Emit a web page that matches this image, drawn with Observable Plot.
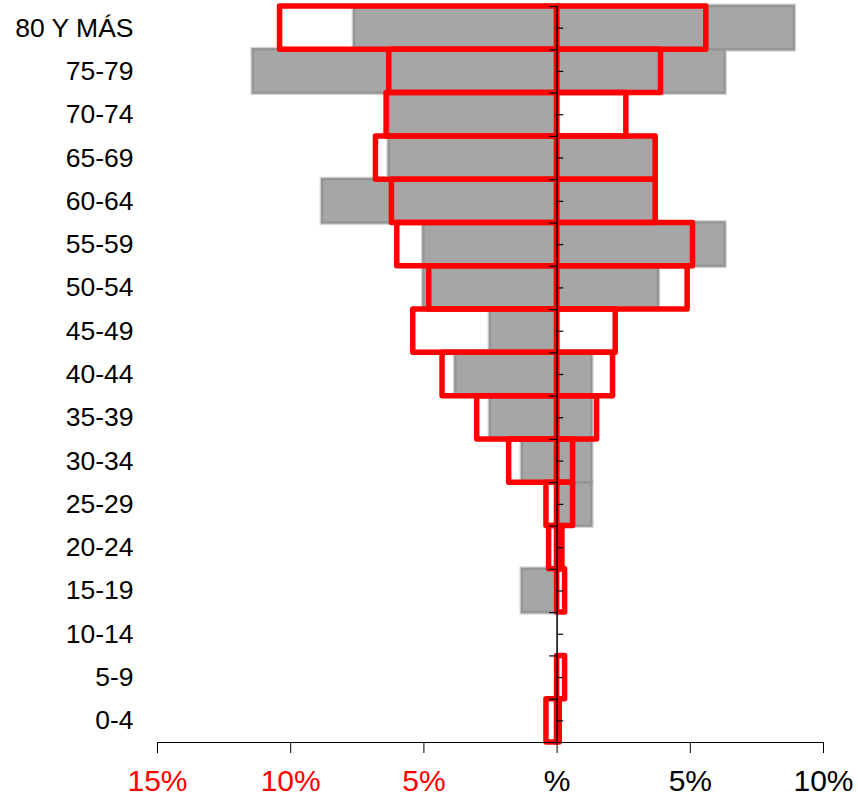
<!DOCTYPE html>
<html>
<head>
<meta charset="utf-8">
<script src="https://cdn.jsdelivr.net/npm/d3@7"></script>
<script src="https://cdn.jsdelivr.net/npm/@observablehq/plot@0.6"></script>
<style>
  html, body { margin: 0; padding: 0; background: #fff; }
  #chart svg { display: block; }
</style>
</head>
<body>
<div id="chart"></div>
<script>
// Age groups, bottom (0-4) to top (80 Y MÁS)
const ages = ["0-4","5-9","10-14","15-19","20-24","25-29","30-34","35-39","40-44","45-49","50-54","55-59","60-64","65-69","70-74","75-79","80 Y MÁS"];
// Grey population (percent), left and right sides
const greyLeft  = [0, 0, 0, 1.3, 0, 0, 1.3, 2.5, 3.8, 2.5, 5.0, 5.0, 8.8, 6.3, 6.3, 11.4, 7.6];
const greyRight = [0, 0, 0, 0, 0, 1.3, 1.3, 1.3, 1.3, 0, 3.8, 6.3, 3.7, 3.7, 0, 6.3, 8.9];
// Red outlined population (percent), left and right sides
const redLeft   = [0.4, 0, 0, 0, 0.3, 0.4, 1.8, 3.0, 4.3, 5.4, 4.8, 6.0, 6.2, 6.8, 6.4, 6.3, 10.4];
const redRight  = [0.1, 0.3, 0, 0.3, 0.2, 0.6, 0.6, 1.5, 2.1, 2.2, 4.9, 5.1, 3.7, 3.7, 2.6, 3.9, 5.6];
// X-axis ticks and labels
const xTicks = [-15, -10, -5, 0, 5, 10];
const xTickLabels = ["15%", "10%", "5%", "%", "5%", "10%"];

const rows = ages.map((age, i) => ({i, age, gl: greyLeft[i], gr: greyRight[i], rl: redLeft[i], rr: redRight[i]}));
const bands = {y1: d => d.i - 0.5, y2: d => d.i + 0.5};
const gL = rows.filter(d => d.gl > 0), gR = rows.filter(d => d.gr > 0);
const rL = rows.filter(d => d.rl > 0), rR = rows.filter(d => d.rr > 0);
const boundaryTicks = ages.map((_, i) => i - 0.5).concat([ages.length - 0.5]);
const midTicks = ages.map((_, i) => i);
const labelOf = v => xTickLabels[xTicks.indexOf(v)];

const chart = Plot.plot({
  width: 858,
  height: 796,
  marginTop: 6,
  marginBottom: 54,
  marginLeft: 157,
  marginRight: 35,
  style: {fontFamily: "'Liberation Sans', Arial, sans-serif", background: "#fff", color: "#000"},
  x: {domain: [-15, 10]},
  y: {domain: [-0.5, ages.length - 0.5]},
  marks: [
    // grey halos
    Plot.rect(gL, {x1: 0, x2: d => -d.gl, ...bands, fill: "#d6d6d6", stroke: "#d6d6d6", strokeWidth: 5}),
    Plot.rect(gR, {x1: 0, x2: d => d.gr, ...bands, fill: "#d6d6d6", stroke: "#d6d6d6", strokeWidth: 5}),
    // grey bars
    Plot.rect(gL, {x1: 0, x2: d => -d.gl, ...bands, fill: "#a6a6a6", stroke: "#969696", strokeWidth: 2.5}),
    Plot.rect(gR, {x1: 0, x2: d => d.gr, ...bands, fill: "#a6a6a6", stroke: "#969696", strokeWidth: 2.5}),
    // red outlined bars
    Plot.rect(rL, {x1: 0, x2: d => -d.rl, ...bands, fill: "none", stroke: "#ff0000", strokeWidth: 5.5, strokeLinejoin: "round"}),
    Plot.rect(rR, {x1: 0, x2: d => d.rr, ...bands, fill: "none", stroke: "#ff0000", strokeWidth: 5.5, strokeLinejoin: "round"}),
    // central vertical axis with ticks
    Plot.ruleX([0], {y1: -0.5, y2: ages.length - 0.5, stroke: "#000", strokeWidth: 1.5}),
    Plot.ruleY(boundaryTicks, {x1: -0.28, x2: 0, stroke: "#000", strokeWidth: 1.2}),
    Plot.ruleY(midTicks, {x1: 0, x2: 0.25, stroke: "#000", strokeWidth: 1.2}),
    // bottom axis line and ticks
    Plot.ruleY([-0.5], {x1: -15, x2: 10, stroke: "#000", strokeWidth: 1}),
    Plot.axisX({ticks: xTicks, tickSize: 11, tickFormat: () => "", stroke: "#000", label: null}),
    Plot.axisX({ticks: xTicks.filter(v => v < 0), tickSize: 0, tickPadding: 27, tickFormat: labelOf, color: "#ff0000", fontSize: 30, label: null}),
    Plot.axisX({ticks: xTicks.filter(v => v >= 0), tickSize: 0, tickPadding: 27, tickFormat: labelOf, color: "#000", fontSize: 30, label: null}),
    // age labels
    Plot.axisY({ticks: midTicks, tickSize: 0, tickPadding: 24, tickFormat: i => ages[i], fontSize: 26.5, color: "#000", label: null})
  ]
});
document.getElementById("chart").appendChild(chart);
</script>
</body>
</html>
